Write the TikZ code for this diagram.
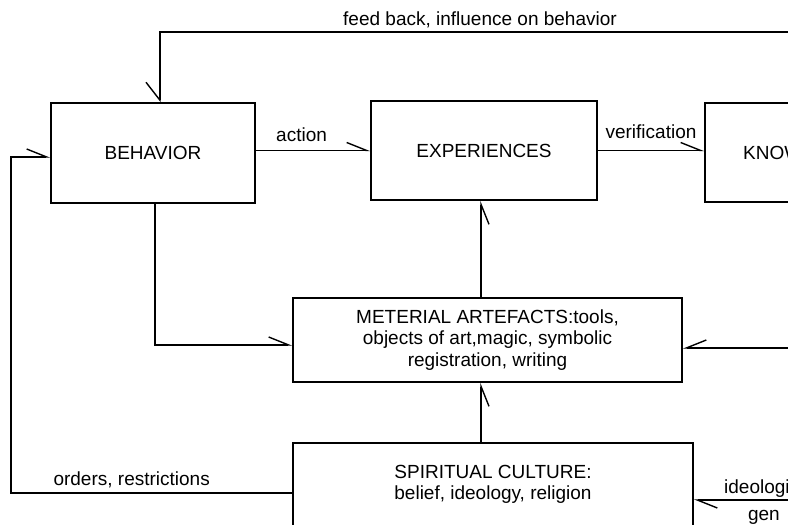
\documentclass[tikz,border=0pt]{standalone}
\usepackage{fontspec}
\setmainfont{Liberation Sans}
\usetikzlibrary{arrows.meta}

\begin{document}
\begin{tikzpicture}[x=1pt, y=-1pt, line width=1.4pt,
  font=\fontsize{19}{21.5}\selectfont,
  box/.style={draw, rectangle, align=center, inner sep=0pt},
  lbl/.style={inner sep=2pt},
  barbL/.style={-{Straight Barb[left, length=20pt, width=16pt]}},
  barbR/.style={-{Straight Barb[right, length=20pt, width=16pt]}}]
  \useasboundingbox (0,0) rectangle (788,525);
  \clip (0,0) rectangle (788,525);
  \node[box, minimum width=204pt, minimum height=100pt] (behavior) at (153,153) {BEHAVIOR};
  \node[box, minimum width=226pt, minimum height=99pt] (experiences) at (484,150.5) {EXPERIENCES};
  \node[box, minimum width=200pt, minimum height=99pt] (know) at (805,152.5) {KNOWLEDGE};
  \node[box, minimum width=389pt, minimum height=84pt] (meterial) at (487.5,340)
    {METERIAL ARTEFACTS:tools,\\objects of art,magic, symbolic\\registration, writing};
  \node[box, minimum width=400pt, minimum height=100pt] (spirit) at (493,493)
    {SPIRITUAL CULTURE:\\belief, ideology, religion\\\mbox{}};
  \coordinate (fb) at (800,32);
  \coordinate (fbend) at ([xshift=7pt]behavior.north);
  \coordinate (lft) at (11,157);
  \coordinate (bhin) at ([yshift=-4pt]behavior.west);
  \coordinate (mx) at (481,0);
  \coordinate (rm) at (800,348);
  \coordinate (rs) at (800,500);
  % top loop back to behavior
  \draw[-{Straight Barb[right, length=18pt, width=28pt]}] (fb) -- node[lbl, above, yshift=1pt] {feed back, influence on behavior} (fb -| fbend) -- (fbend);
  \draw[barbL] (behavior.east |- experiences.west) -- node[lbl, above, pos=0.4, yshift=6pt] {action} (experiences.west);
  \draw[barbL] (experiences.east) -- node[lbl, above, yshift=9pt] {verification} (experiences.east -| know.west);
  \draw[barbL] (spirit.west) -- node[lbl, above, pos=0.571, yshift=2pt] {orders, restrictions} (lft |- spirit.west) -- (lft) -- (bhin);
  \draw[barbL] ([xshift=2pt]behavior.south) |- ([yshift=-5pt]meterial.west);
  \draw[barbR] (mx |- meterial.north) -- (mx |- experiences.south);
  \draw[barbR] (mx |- spirit.north) -- (mx |- meterial.south);
  \draw[barbR] (rm) -- (rm -| meterial.east);
  \draw[barbL] (rs) -- node[lbl, above right, pos=0.72, inner sep=0pt, yshift=2pt] {ideologi}
    node[lbl, below right, pos=0.495, inner sep=0pt, yshift=-10pt] {gen} (rs -| spirit.east);
\end{tikzpicture}
\end{document}
